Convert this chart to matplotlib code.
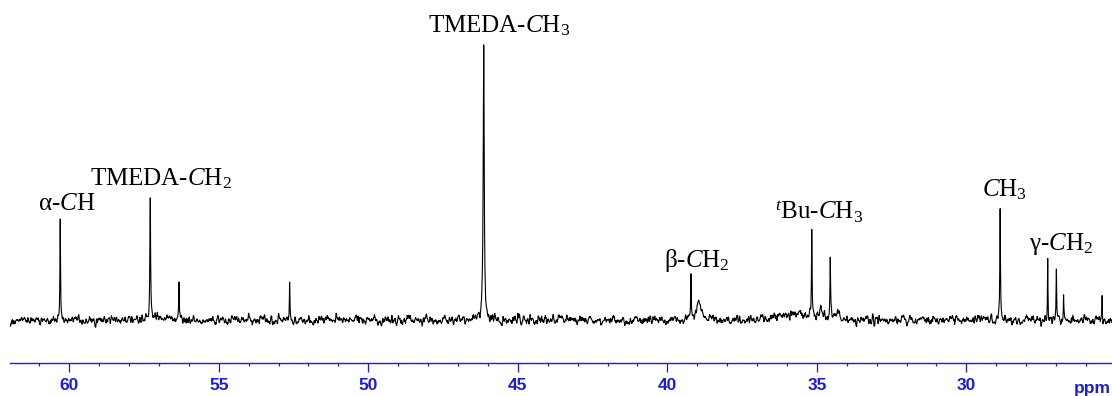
import numpy as np
import matplotlib
matplotlib.use("Agg")
import matplotlib.pyplot as plt

# 13C NMR peaks: chemical shift (ppm), relative intensity, half-width (ppm)
peak_ppm = [60.30, 57.29, 56.33, 52.63, 48.70, 46.14, 39.21, 38.94,
            35.17, 34.87, 34.55, 34.30, 28.87, 27.28, 26.99, 26.75, 25.46]
peak_height = [37.0, 44.0, 15.0, 14.0, 2.0, 100.0, 16.0, 7.5,
               32.0, 4.0, 22.5, 4.0, 41.5, 22.5, 18.5, 8.0, 9.5]
peak_hwhm = [0.012, 0.014, 0.010, 0.010, 0.010, 0.020, 0.010, 0.07,
             0.012, 0.03, 0.012, 0.03, 0.012, 0.010, 0.010, 0.010, 0.010]

# broad background humps (center, height, half-width)
hump_ppm = [35.6, 56.8]
hump_height = [2.0, 1.0]
hump_hwhm = [0.7, 0.5]

peak_labels = ["TMEDA-$C$H$_3$", "α-$C$H", "TMEDA-$C$H$_2$",
               "β-$C$H$_2$", "$^t$Bu-$C$H$_3$", "$C$H$_3$",
               "γ-$C$H$_2$"]
label_pos = [(48.00, 104.7), (61.05, 40.0), (59.31, 49.1), (40.11, 19.4),
             (36.40, 36.4), (29.48, 44.8), (27.90, 25.5)]

major_ticks = [60, 55, 50, 45, 40, 35, 30]

plt.rcParams["mathtext.fontset"] = "custom"
plt.rcParams["mathtext.rm"] = "Liberation Serif"
plt.rcParams["mathtext.it"] = "Liberation Serif:italic"
plt.rcParams["mathtext.bf"] = "Liberation Serif:bold"

x = np.linspace(62.2, 25.0, 3000)
x = np.union1d(x, np.array(peak_ppm))[::-1]

y = np.zeros_like(x)
for c, h, w in zip(peak_ppm, peak_height, peak_hwhm):
    y += h * w**2 / ((x - c)**2 + w**2)
for c, h, w in zip(hump_ppm, hump_height, hump_hwhm):
    y += h * np.exp(-0.5 * ((x - c) / w)**2)

# baseline noise texture
rng = np.random.default_rng(7)
noise = rng.normal(0, 1.0, x.size)
kern = np.ones(3) / 3
noise = np.convolve(noise, kern, mode="same") * 1.35
y += noise

fig = plt.figure(figsize=(11.12, 3.96), dpi=100)
ax = fig.add_axes([10 / 1112, 32.7 / 396, 1102 / 1112, 363.3 / 396])
ax.plot(x, y, color="black", lw=0.8)
ax.set_xlim(61.98, 25.13)
ax.set_ylim(-15.75, 116.35)

blue = "#1a1ae6"
for s in ["left", "right", "top"]:
    ax.spines[s].set_visible(False)
ax.spines["bottom"].set_color(blue)
ax.spines["bottom"].set_linewidth(1.0)
ax.set_yticks([])
ax.set_xticks(major_ticks)
ax.set_xticks(np.arange(26, 62, 1), minor=True)
ax.tick_params(axis="x", which="major", direction="out", length=6.5,
               width=0.9, color=blue, labelcolor=blue, pad=4)
ax.tick_params(axis="x", which="minor", direction="out", length=2.2,
               width=0.9, color=blue)
for lab in ax.get_xticklabels():
    lab.set_fontfamily("Liberation Sans")
    lab.set_fontweight("bold")
    lab.set_fontsize(12.5)

fig.text(1111 / 1112, (396 - 393) / 396, "ppm", color=blue,
         fontfamily="Liberation Sans", fontweight="bold", fontsize=12.5,
         ha="right", va="baseline")

for txt, (px, py) in zip(peak_labels, label_pos):
    ax.text(px, py, txt, fontfamily="Liberation Serif", fontsize=18,
            ha="left", va="baseline", color="black")

fig.savefig("out.png", dpi=100)
